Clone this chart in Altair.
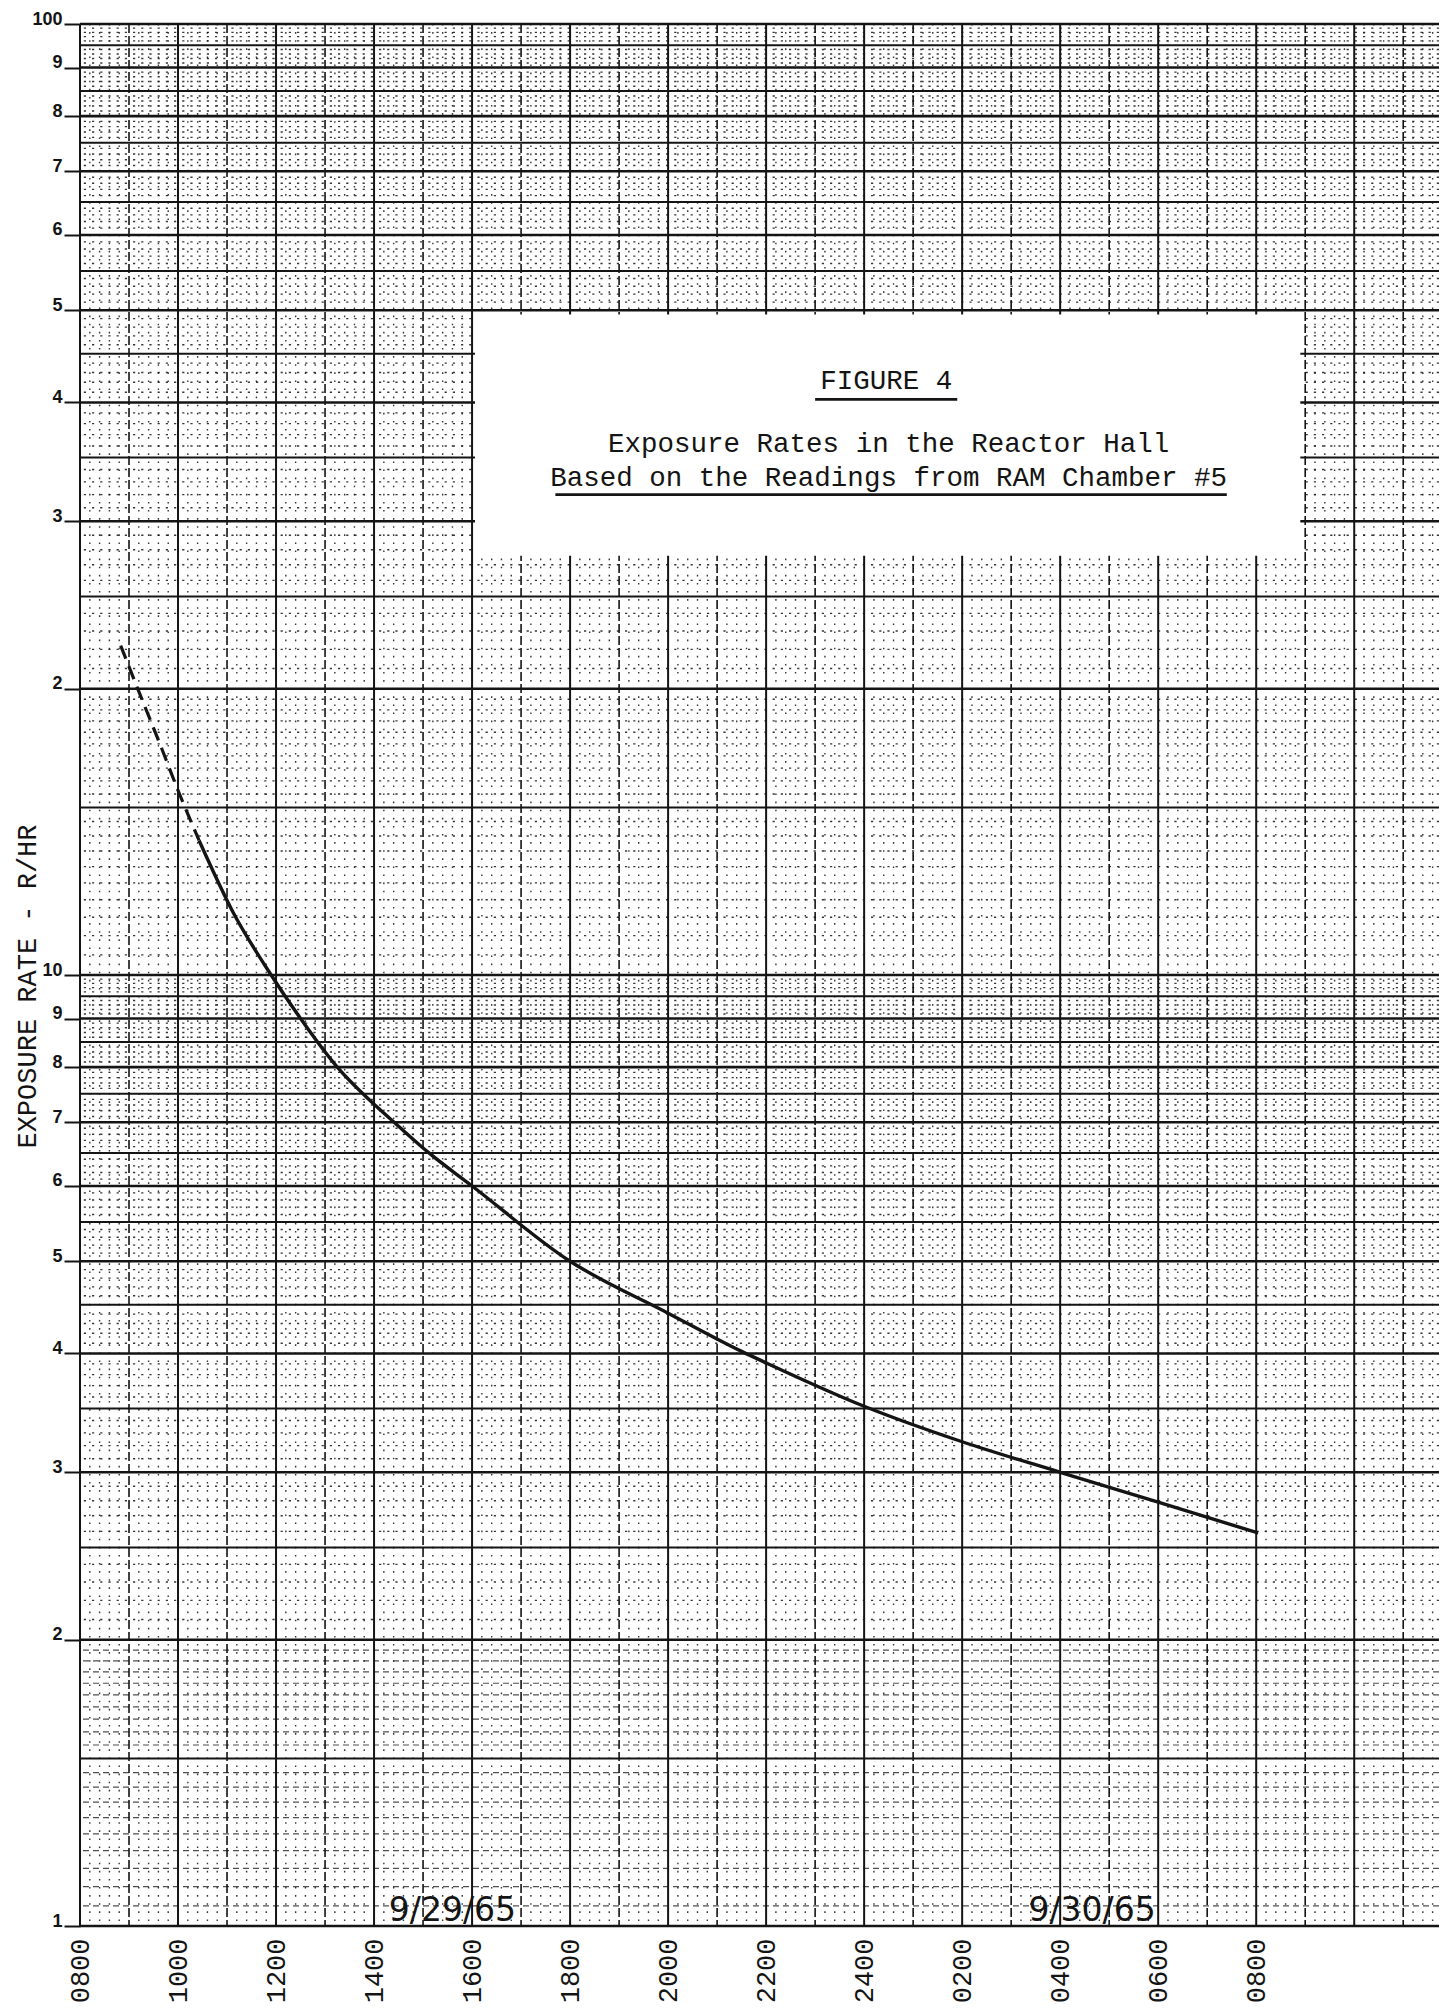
import altair as alt
import pandas as pd
import numpy as np

# ---------------- data ----------------
# x = hours after 0800 on 9/29/65
X_TICKS = [0, 2, 4, 6, 8, 10, 12, 14, 16, 18, 20, 22, 24]
X_LABELS = ["0800", "1000", "1200", "1400", "1600", "1800", "2000",
            "2200", "2400", "0200", "0400", "0600", "0800"]
X_MAX = 27.73

Y_TICKS = [1, 2, 3, 4, 5, 6, 7, 8, 9, 10, 20, 30, 40, 50, 60, 70, 80, 90, 100]
Y_LABELS = ["1", "2", "3", "4", "5", "6", "7", "8", "9", "10",
            "2", "3", "4", "5", "6", "7", "8", "9", "100"]

# extrapolated (dashed) part of the curve
DASHED_H = [0.83, 1.22, 1.63, 2.03, 2.34, 2.43]
DASHED_V = [22.2, 19.75, 17.5, 15.5, 14.2, 13.85]
# measured (solid) part of the curve
SOLID_H = [2.43, 3.12, 3.90, 4.50, 5.25, 6.04, 6.41, 7.12, 8.0, 10.0, 12.0,
           13.5, 14.0, 16.0, 18.0, 20.0, 22.0, 24.04]
SOLID_V = [13.85, 11.65, 10.0, 9.0, 8.0, 7.28, 7.0, 6.5, 6.0, 5.0, 4.41,
           4.02, 3.91, 3.52, 3.23, 3.0, 2.79, 2.59]

TITLE_LINES = ["FIGURE 4",
               "Exposure Rates in the Reactor Hall",
               "Based on the Readings from RAM Chamber #5"]
TITLE_H = [16.45, 16.5, 16.5]
TITLE_V = [42.1, 36.2, 33.3]

UNDERLINE_H = [15.0, 9.7]
UNDERLINE_H2 = [17.9, 23.4]
UNDERLINE_V = [40.3, 32.0]

DATE_LABELS = ["9/29/65", "9/30/65"]
DATE_H = [7.6, 20.65]
DATE_V = [1.012, 1.012]

BOX_H = [8.06]
BOX_H2 = [24.9]
BOX_V = [49.5]
BOX_V2 = [27.6]

# ---------------- graph-paper rulings ----------------
def _r(a):
    return [round(float(x), 3) for x in a]

major_h = _r(list(range(1, 11)) + list(range(20, 101, 10)))
half_h = _r([i + 0.5 for i in range(1, 10)] + list(range(15, 96, 10)))
low_h = []      # 1 - 2, every 0.05 (dashed rulings)
for v in np.arange(1.05, 2.0, 0.05):
    if abs(v * 2 - round(v * 2)) > 1e-6:
        low_h.append(v)
low_h = _r(low_h)
minor_h = []
for v in np.arange(2.1, 10.0, 0.1):
    if abs(v * 2 - round(v * 2)) > 1e-6:
        minor_h.append(v)
for v in np.arange(10.5, 20.0, 0.5):
    if abs(v - 15) > 1e-6:
        minor_h.append(v)
for v in range(21, 100):
    if v % 5 != 0:
        minor_h.append(v)
minor_h = _r(minor_h)

even_hours = [h for h in range(0, int(X_MAX) + 1) if h % 2 == 0]
odd_hours = [h for h in range(0, int(X_MAX) + 1) if h % 2 == 1]
minor_vert = _r([t for t in np.arange(0.2, X_MAX, 0.2)
                 if abs(t - round(t)) > 1e-6])

# ---------------- chart ----------------
W, H = 1359, 1902
INK = "#141414"
xs = alt.Scale(domain=[0, X_MAX], nice=False, zero=False)
ys = alt.Scale(type="log", domain=[1, 100], nice=False)

x_axis = alt.Axis(
    values=X_TICKS,
    labelExpr="%s[indexof(%s, datum.value)]" % (
        "[" + ",".join("'%s'" % s for s in X_LABELS) + "]",
        "[" + ",".join(str(v) for v in X_TICKS) + "]"),
    labelAngle=270, labelFont="Liberation Mono", labelFontSize=27,
    labelColor=INK, labelPadding=12, ticks=False, domain=False, grid=False,
    labelFlush=False, labelOverlap=False, labelBound=False, title=None)

y_axis = alt.Axis(
    values=Y_TICKS,
    labelExpr="%s[indexof(%s, datum.value)]" % (
        "[" + ",".join("'%s'" % s for s in Y_LABELS) + "]",
        "[" + ",".join(str(v) for v in Y_TICKS) + "]"),
    labelFont="Liberation Sans", labelFontSize=18, labelFontWeight="bold",
    labelColor=INK, labelBaseline="alphabetic", labelPadding=2,
    tickSize=16, tickWidth=2, tickColor=INK, domain=False, grid=False,
    labelFlush=False, labelOverlap=False, labelBound=False,
    title="EXPOSURE RATE - R/HR", titleFont="Liberation Mono",
    titleFontSize=27, titleFontWeight="normal", titleColor=INK,
    titleAngle=270, titleX=-45, titleY=962, titleAlign="center",
    titleBaseline="alphabetic")

X = lambda f: alt.X(f, scale=xs, axis=x_axis)
Y = lambda f: alt.Y(f, scale=ys, axis=y_axis)


def vrules(vals, width, dash=None, opacity=1.0):
    kw = dict(color=INK, strokeWidth=width, opacity=opacity)
    if dash:
        kw["strokeDash"] = dash
    return alt.Chart(pd.DataFrame({"h": vals})).mark_rule(**kw).encode(
        x=X("h:Q"))


def hrules(vals, width, dash=None, opacity=1.0):
    kw = dict(color=INK, strokeWidth=width, opacity=opacity)
    if dash:
        kw["strokeDash"] = dash
    return alt.Chart(pd.DataFrame({"v": vals})).mark_rule(**kw).encode(
        y=Y("v:Q"))


grid = [
    vrules(minor_vert, 1.4, [1.6, 6.5], 0.85),
    hrules(minor_h, 1.4, [2.2, 6.0], 0.85),
    hrules(low_h, 1.2, [6, 4], 0.75),
    hrules(half_h, 2.0),
    vrules(odd_hours, 1.6, [9, 3]),
    vrules(even_hours, 2.0),
    hrules(major_h, 2.6),
]

box = alt.Chart(pd.DataFrame({"h": BOX_H, "h2": BOX_H2, "v": BOX_V, "v2": BOX_V2})
                ).mark_rect(color="white").encode(
    x=X("h:Q"), x2="h2:Q", y=Y("v:Q"), y2="v2:Q")

title_df = pd.DataFrame({"t": TITLE_LINES, "h": TITLE_H, "v": TITLE_V})
titles = alt.Chart(title_df).mark_text(
    font="Liberation Mono", fontSize=27.5, color=INK, align="center",
    baseline="middle").encode(x=X("h:Q"), y=Y("v:Q"), text="t:N")

underlines = alt.Chart(pd.DataFrame({"h": UNDERLINE_H, "h2": UNDERLINE_H2,
                                     "v": UNDERLINE_V})).mark_rule(
    color=INK, strokeWidth=2.6).encode(x=X("h:Q"), x2="h2:Q", y=Y("v:Q"))

dates = alt.Chart(pd.DataFrame({"t": DATE_LABELS, "h": DATE_H, "v": DATE_V})
                  ).mark_text(font="DejaVu Sans", fontSize=33,
                              color=INK, align="center",
                              baseline="alphabetic").encode(
    x=X("h:Q"), y=Y("v:Q"), text="t:N")

dashed = alt.Chart(pd.DataFrame({"h": DASHED_H, "v": DASHED_V})).mark_line(
    color=INK, strokeWidth=3.2, strokeDash=[14, 8], interpolate="monotone"
).encode(x=X("h:Q"), y=Y("v:Q"), order="h:Q")

solid = alt.Chart(pd.DataFrame({"h": SOLID_H, "v": SOLID_V})).mark_line(
    color=INK, strokeWidth=3.4, interpolate="monotone"
).encode(x=X("h:Q"), y=Y("v:Q"), order="h:Q")

chart = alt.layer(*grid, box, titles, underlines, dates, dashed, solid).properties(
    width=W, height=H,
    autosize=alt.AutoSizeParams(type="none"),
    padding={"left": 72, "top": 16, "right": 0, "bottom": 79},
    background="white",
).configure_view(stroke=None)

chart.save("out.html", embed_options={"renderer": "svg", "actions": False})
